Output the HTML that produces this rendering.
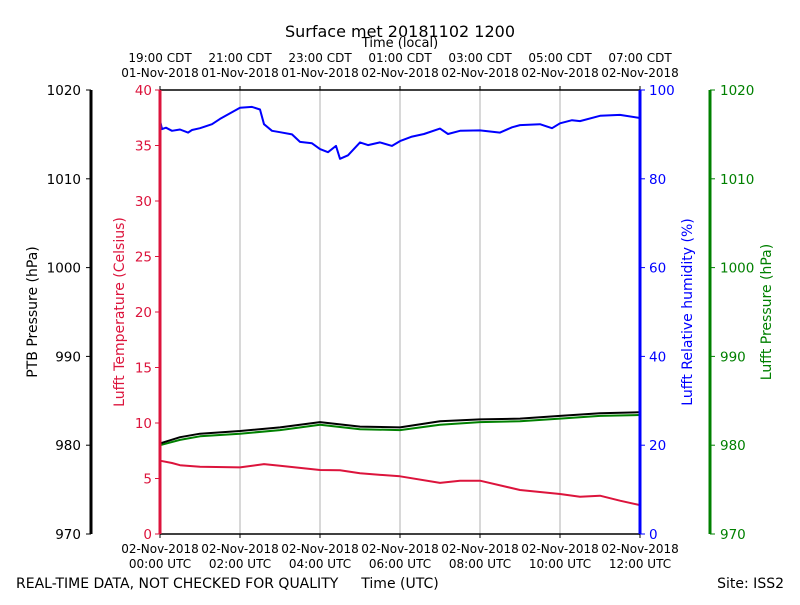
<!DOCTYPE html>
<html><head><meta charset="utf-8"><style>
body{margin:0;background:#fff;}
svg text{font-family:"DejaVu Sans","Liberation Sans",sans-serif;font-size:12px;}
</style></head><body>
<svg id="chart" width="800" height="600" xmlns="http://www.w3.org/2000/svg">
<rect width="800" height="600" fill="#fff"/>
<g id="grid"></g><g id="marks"></g><g id="axes"></g>
<text x="400" y="37" text-anchor="middle" style="font-size:16px">Surface met 20181102 1200</text>
<text x="400" y="47" text-anchor="middle" style="font-size:13px">Time (local)</text>
<text x="400" y="588" text-anchor="middle" style="font-size:14px">Time (UTC)</text>
<text x="16" y="588" style="font-size:14px">REAL-TIME DATA, NOT CHECKED FOR QUALITY</text>
<text x="784" y="588" text-anchor="end" style="font-size:14px">Site: ISS2</text>
<text transform="translate(37,312) rotate(-90)" text-anchor="middle" style="font-size:14px">PTB Pressure (hPa)</text>
<text transform="translate(124,312) rotate(-90)" text-anchor="middle" fill="crimson" style="font-size:14px">Lufft Temperature (Celsius)</text>
<text transform="translate(692,312) rotate(-90)" text-anchor="middle" fill="blue" style="font-size:14px">Lufft Relative humidity (%)</text>
<text transform="translate(771,312) rotate(-90)" text-anchor="middle" fill="green" style="font-size:14px">Lufft Pressure (hPa)</text>
</svg>
<script>
const hours=[0,0.05,0.15,0.3,0.5,0.7,0.8,1,1.3,1.5,2,2.3,2.5,2.6,2.8,3,3.3,3.5,3.8,4,4.2,4.4,4.5,4.7,5,5.2,5.5,5.8,6,6.3,6.6,7,7.2,7.5,8,8.5,8.8,9,9.5,9.8,10,10.3,10.5,11,11.5,12];
const rhValues=[93.2,91.2,91.5,90.8,91.1,90.4,91,91.4,92.3,93.5,96,96.2,95.6,92.3,90.8,90.5,90,88.3,88.0,86.7,86,87.4,84.5,85.3,88.2,87.6,88.2,87.4,88.5,89.5,90.1,91.3,90.1,90.8,90.9,90.4,91.6,92.1,92.3,91.4,92.5,93.2,93.0,94.2,94.4,93.7];
const tHours=[0,0.3,0.5,1,2,2.6,3,4,4.5,5,6,7,7.5,8,9,10,10.5,11,11.5,12];
const tempValues=[6.6,6.4,6.2,6.06,6.0,6.3,6.15,5.77,5.75,5.47,5.2,4.6,4.8,4.8,3.96,3.6,3.35,3.45,3.0,2.6];
const pHours=[0,0.5,1,2,3,4,5,6,7,8,9,10,11,12];
const ptbValues=[980.2,980.9,981.3,981.6,982.0,982.6,982.1,982.0,982.7,982.9,983.0,983.3,983.6,983.7];
const lufftPValues=[980.0,980.6,981.0,981.3,981.7,982.3,981.8,981.7,982.3,982.6,982.7,983.0,983.3,983.4];
const utcLabels=["00:00 UTC","02:00 UTC","04:00 UTC","06:00 UTC","08:00 UTC","10:00 UTC","12:00 UTC"];
const utcDates=["02-Nov-2018","02-Nov-2018","02-Nov-2018","02-Nov-2018","02-Nov-2018","02-Nov-2018","02-Nov-2018"];
const localLabels=["19:00 CDT","21:00 CDT","23:00 CDT","01:00 CDT","03:00 CDT","05:00 CDT","07:00 CDT"];
const localDates=["01-Nov-2018","01-Nov-2018","01-Nov-2018","02-Nov-2018","02-Nov-2018","02-Nov-2018","02-Nov-2018"];
const tempTicks=[0,5,10,15,20,25,30,35,40];
const rhTicks=[0,20,40,60,80,100];
const pTicks=[970,980,990,1000,1010,1020];

const X0=160,X1=640,Y0=534,Y1=90,NS="http://www.w3.org/2000/svg";
const x=h=>X0+(X1-X0)*h/12;
const yT=v=>Y0-(Y0-Y1)*v/40;
const yR=v=>Y0-(Y0-Y1)*v/100;
const yP=v=>Y0-(Y0-Y1)*(v-970)/50;
function mk(tag,attrs,parent,txt){const e=document.createElementNS(NS,tag);for(const k in attrs)e.setAttribute(k,attrs[k]);if(txt!==undefined)e.textContent=txt;document.getElementById(parent).appendChild(e);return e;}
utcLabels.forEach((l,i)=>{const xx=x(i*2);
 if(i>0&&i<6){const g=mk('line',{x1:xx,x2:xx,y1:Y1,y2:Y0,stroke:'#b0b0b0','stroke-width':1},'grid');
 
 }
 mk('line',{x1:xx,x2:xx,y1:Y0,y2:Y0+4,stroke:'#000'},'axes');
 mk('line',{x1:xx,x2:xx,y1:Y1,y2:Y1-4,stroke:'#000'},'axes');
 const a=mk('text',{x:xx,y:553,'text-anchor':'middle'},'axes',utcDates[i]);
 
 
 mk('text',{x:xx,y:568,'text-anchor':'middle'},'axes',l);
 const b=mk('text',{x:xx,y:62,'text-anchor':'middle'},'axes',localLabels[i]);
 
 
 mk('text',{x:xx,y:77,'text-anchor':'middle'},'axes',localDates[i]);
});
function line(xs,ys,fx,fy,color,name){const d=xs.map((h,i)=>(i?'L':'M')+fx(h).toFixed(1)+','+fy(ys[i]).toFixed(1)).join('');
 const p=mk('path',{d:d,fill:'none',stroke:color,'stroke-width':2,'stroke-linejoin':'round'},'marks');
 
 }
line(hours,rhValues,x,yR,'blue','rh-line');
line(tHours,tempValues,x,yT,'crimson','temp-line');
line(pHours,lufftPValues,x,yP,'green','lufft-pressure-line');
line(pHours,ptbValues,x,yP,'black','ptb-pressure-line');
mk('line',{x1:X0,x2:X1,y1:Y1,y2:Y1,stroke:'#000','stroke-width':1.5},'axes');
mk('line',{x1:X0,x2:X1,y1:Y0,y2:Y0,stroke:'#000','stroke-width':1.5},'axes');
const s1=mk('line',{x1:X0,x2:X0,y1:Y1,y2:Y0,stroke:'crimson','stroke-width':3},'axes');


const s2=mk('line',{x1:X1,x2:X1,y1:Y1,y2:Y0,stroke:'blue','stroke-width':3},'axes');


const s3=mk('line',{x1:91,x2:91,y1:Y1,y2:Y0,stroke:'#000','stroke-width':3},'axes');


const s4=mk('line',{x1:710,x2:710,y1:Y1,y2:Y0,stroke:'green','stroke-width':3},'axes');


const TS='font-size:13.5px';
tempTicks.forEach(v=>{const y=yT(v);mk('line',{x1:X0-5,x2:X0,y1:y,y2:y,stroke:'crimson'},'axes');
 const t=mk('text',{x:X0-8,y:y+5,'text-anchor':'end',fill:'crimson',style:TS},'axes',v);
 
 });
rhTicks.forEach(v=>{const y=yR(v);mk('line',{x1:X1,x2:X1+5,y1:y,y2:y,stroke:'blue'},'axes');
 const t=mk('text',{x:X1+9,y:y+5,fill:'blue',style:TS},'axes',v);
 
 });
pTicks.forEach(v=>{const y=yP(v);mk('line',{x1:86,x2:91,y1:y,y2:y,stroke:'#000'},'axes');
 const t=mk('text',{x:81,y:y+5,'text-anchor':'end',style:TS},'axes',v);
 
 
 mk('line',{x1:710,x2:715,y1:y,y2:y,stroke:'green'},'axes');
 const u=mk('text',{x:720,y:y+5,fill:'green',style:TS},'axes',v);
 
 });
</script>
</body></html>
